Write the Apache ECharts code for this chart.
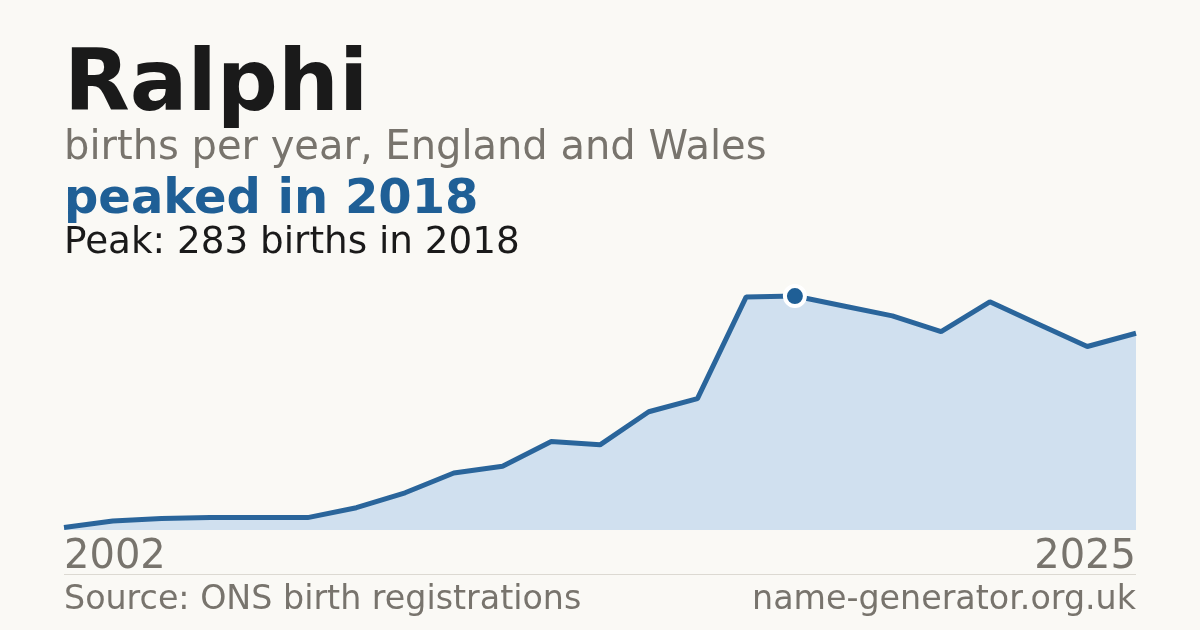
<!DOCTYPE html>
<html>
<head>
<meta charset="utf-8">
<script src="https://cdn.jsdelivr.net/npm/echarts@6/dist/echarts.min.js"></script>
<style>
html,body{margin:0;padding:0;background:#faf9f5;}
#chart{width:1200px;height:630px;}
</style>
</head>
<body>
<div id="chart"></div>
<script>
var years = ['2002','2004','2005','2006','2007','2008','2009','2010','2011','2012','2013','2014','2015','2016','2017','2018','2019','2020','2021','2022','2023','2024','2025'];
var births = [3, 11, 14, 15, 15, 15, 27, 45, 69, 77, 107, 103, 143, 159, 282, 283, 271, 259, 240, 276, 249, 222, 238];
var peakYear = '2018';
var peakValue = 283;

var FONT = 'DejaVu Sans';
var chart = echarts.init(document.getElementById('chart'), null, {renderer: 'canvas'});

function mid(baseline, fs) { return baseline - 0.3 * fs; }

chart.setOption({
  backgroundColor: '#faf9f5',
  animation: false,
  grid: {left: 64, right: 64, top: 282, bottom: 100, containLabel: false},
  xAxis: {
    type: 'category',
    data: years,
    boundaryGap: false,
    axisLine: {show: false},
    axisTick: {show: false},
    splitLine: {show: false},
    axisLabel: {
      show: true,
      interval: function (i) { return i === 0 || i === years.length - 1; },
      fontFamily: FONT,
      fontSize: 40,
      lineHeight: 40,
      color: '#78746d',
      margin: 8,
      alignMinLabel: 'left',
      alignMaxLabel: 'right'
    }
  },
  yAxis: {
    type: 'value',
    min: 0,
    max: 300,
    show: false,
    splitLine: {show: false}
  },
  series: [{
    type: 'line',
    data: births,
    symbol: 'none',
    lineStyle: {color: '#2a659b', width: 5},
    areaStyle: {color: '#d0e0ef', opacity: 1},
    markPoint: {
      symbol: 'circle',
      symbolSize: 20,
      itemStyle: {color: '#1f5f96', borderColor: '#ffffff', borderWidth: 4},
      label: {show: false},
      data: [{coord: [peakYear, peakValue]}]
    }
  }],
  graphic: [
    {type: 'text', x: 64, y: mid(113, 85.5), style: {text: 'Ralphi', font: 'bold 85.5px "DejaVu Sans"', fill: '#1a1a1a', verticalAlign: 'middle', align: 'left'}},
    {type: 'text', x: 64, y: mid(161, 40), style: {text: 'births per year, England and Wales', font: '40px "DejaVu Sans"', fill: '#78746d', verticalAlign: 'middle', align: 'left'}},
    {type: 'text', x: 64, y: mid(214.5, 48), style: {text: 'peaked in 2018', font: 'bold 48px "DejaVu Sans"', fill: '#1f5f96', verticalAlign: 'middle', align: 'left'}},
    {type: 'text', x: 64, y: mid(254.5, 37.3), style: {text: 'Peak: 283 births in 2018', font: '37.3px "DejaVu Sans"', fill: '#1a1a1a', verticalAlign: 'middle', align: 'left'}},
    {type: 'line', shape: {x1: 64, y1: 574.5, x2: 1136, y2: 574.5}, style: {stroke: '#dcd9d2', lineWidth: 1}},
    {type: 'text', x: 64, y: mid(610.5, 33.3), style: {text: 'Source: ONS birth registrations', font: '33.3px "DejaVu Sans"', fill: '#78746d', verticalAlign: 'middle', align: 'left'}},
    {type: 'text', x: 1136, y: mid(610.5, 33.3), style: {text: 'name-generator.org.uk', font: '33.3px "DejaVu Sans"', fill: '#78746d', verticalAlign: 'middle', align: 'right'}}
  ]
});
</script>
</body>
</html>
